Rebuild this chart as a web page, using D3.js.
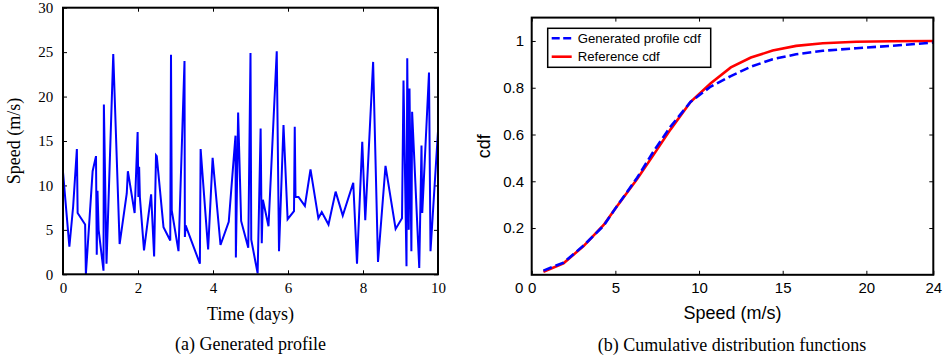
<!DOCTYPE html>
<html>
<head>
<meta charset="utf-8">
<script src="https://cdn.jsdelivr.net/npm/d3@7"></script>
<style>
  body { margin: 0; background: #fff; }
  svg { display: block; }
  .serif text { font-family: "Liberation Serif", "Times New Roman", serif; }
  .sans text { font-family: "Liberation Sans", Arial, Helvetica, sans-serif; }
</style>
</head>
<body>
<div id="chart"></div>
<script>
// (a) generated wind speed profile
var days = [0, 0.17, 0.27, 0.37, 0.39, 0.59, 0.61, 0.79, 0.88, 0.90, 0.92, 0.95, 1.08, 1.09, 1.16, 1.34,
  1.51, 1.70, 1.73, 1.91, 1.99, 2.01, 2.03, 2.05, 2.16, 2.35, 2.43, 2.48, 2.50, 2.68, 2.86, 2.88,
  2.90, 3.08, 3.24, 3.25, 3.27, 3.65, 3.67, 3.87, 3.99, 4.20, 4.42, 4.60, 4.61, 4.67, 4.75, 4.94,
  5.00, 5.02, 5.19, 5.27, 5.30, 5.33, 5.48, 5.70, 5.76, 5.88, 5.99, 6.16, 6.18, 6.20, 6.28, 6.45,
  6.60, 6.81, 6.90, 7.08, 7.27, 7.46, 7.74, 7.84, 7.98, 8.06, 8.27, 8.40, 8.60, 8.87, 9.04, 9.08,
  9.16, 9.18, 9.22, 9.24, 9.29, 9.31, 9.50, 9.56, 9.58, 9.76, 9.80, 10.0]
var speed = [11.5, 3.1, 7.6, 14.1, 6.9, 5.6, 0, 11.6, 13.3, 2.2, 9.4, 5.0, 0.4, 19.1, 1.2, 24.8,
  3.4, 9.1, 11.6, 6.9, 16.0, 8.7, 12.1, 8.7, 2.7, 9.0, 2.0, 13.4, 13.3, 5.3, 3.8, 24.7,
  7.2, 2.6, 24.0, 4.2, 5.5, 1.2, 14.1, 2.8, 13.1, 3.3, 5.9, 15.6, 1.9, 18.2, 6.0, 3.0,
  24.9, 3.9, 0.1, 16.4, 3.5, 8.4, 5.4, 25.1, 2.6, 16.8, 6.2, 7.1, 16.6, 8.7, 8.7, 7.7,
  11.8, 6.3, 7.0, 5.6, 9.3, 6.6, 10.3, 1.2, 14.9, 6.1, 23.9, 1.4, 12.2, 5.1, 6.3, 21.8,
  0.9, 24.3, 5.0, 20.9, 2.6, 18.3, 0.7, 14.5, 6.9, 22.7, 2.6, 16.1]
var dayTicks = [0, 2, 4, 6, 8, 10]
var speedTicks = [0, 5, 10, 15, 20, 25, 30]

// (b) cdfs
var cdfSpeed = [0.7, 1.9, 3.1, 4.3, 5.0, 6.3, 7.3, 8.3, 9.5, 10.7, 11.9, 13.1, 14.4, 15.8, 17.4, 19.4, 21.5, 24]
var genCdf = [0.018, 0.052, 0.125, 0.210, 0.284, 0.415, 0.530, 0.634, 0.740, 0.805, 0.850, 0.890, 0.922, 0.943, 0.958, 0.969, 0.979, 0.993]
var refCdf = [0.013, 0.049, 0.123, 0.213, 0.284, 0.410, 0.515, 0.622, 0.740, 0.819, 0.887, 0.929, 0.959, 0.979, 0.990, 0.997, 0.999, 1.0]
var cdfXTicks = [0, 5, 10, 15, 20, 24]
var cdfYTicks = [0.2, 0.4, 0.6, 0.8, 1]
var legendNames = ["Generated profile cdf", "Reference cdf"]

var W = 948, H = 363

var svg = d3.select("#chart").append("svg")
  .attr("width", W)
  .attr("height", H)

svg.append("rect").attr("width", W).attr("height", H).attr("fill", "#fff")

// ---------- left panel ----------
var L = { left: 63, right: 438, top: 7.7, bottom: 274.3 }
var gL = svg.append("g").attr("class", "serif")

var xL = d3.scaleLinear().domain([0, 10]).range([L.left, L.right])
var yL = d3.scaleLinear().domain([0, 30]).range([L.bottom, L.top])

gL.append("g")
  .attr("transform", "translate(0," + L.bottom + ")")
  .call(d3.axisBottom(xL).tickValues(dayTicks).tickFormat(d3.format("d")).tickSizeInner(-4).tickSizeOuter(0).tickPadding(8))
gL.append("g")
  .attr("transform", "translate(" + L.left + ",0)")
  .call(d3.axisLeft(yL).tickValues(speedTicks).tickFormat(d3.format("d")).tickSizeInner(-4).tickSizeOuter(0).tickPadding(9.7))
gL.append("g")
  .attr("transform", "translate(0," + L.top + ")")
  .call(d3.axisTop(xL).tickValues(dayTicks).tickFormat("").tickSizeInner(-4).tickSizeOuter(0))
gL.append("g")
  .attr("transform", "translate(" + L.right + ",0)")
  .call(d3.axisRight(yL).tickValues(speedTicks).tickFormat("").tickSizeInner(-4).tickSizeOuter(0))

gL.selectAll(".domain").remove()
gL.selectAll(".tick line").attr("stroke", "#000").attr("stroke-width", 1)
gL.selectAll(".tick text").attr("font-size", 15).attr("fill", "#000")

var line = d3.line()
  .x(function(d, i) { return xL(days[i]) })
  .y(function(d) { return yL(d) })

gL.append("path")
  .datum(speed)
  .attr("d", line)
  .attr("fill", "none")
  .attr("stroke", "#0000ff")
  .attr("stroke-width", 2)
  .attr("stroke-linejoin", "miter")

gL.append("rect")
  .attr("x", L.left).attr("y", L.top)
  .attr("width", L.right - L.left).attr("height", L.bottom - L.top)
  .attr("fill", "none").attr("stroke", "#000").attr("stroke-width", 2)

gL.append("text")
  .attr("x", (L.left + L.right) / 2).attr("y", 320)
  .attr("text-anchor", "middle").attr("font-size", 18)
  .text("Time (days)")
gL.append("text")
  .attr("transform", "translate(20," + (L.top + L.bottom) / 2 + ") rotate(-90)")
  .attr("text-anchor", "middle").attr("font-size", 18)
  .text("Speed (m/s)")
gL.append("text")
  .attr("x", 250.5).attr("y", 350)
  .attr("text-anchor", "middle").attr("font-size", 18)
  .text("(a) Generated profile")

// ---------- right panel ----------
var R = { left: 531.7, right: 933.3, top: 17.6, bottom: 274.8 }
var gR = svg.append("g").attr("class", "sans")

var xR = d3.scaleLinear().domain([0, 24]).range([R.left, R.right])
var yR = d3.scaleLinear().domain([0, 1.1]).range([R.bottom, R.top])

gR.append("g")
  .attr("transform", "translate(0," + R.bottom + ")")
  .call(d3.axisBottom(xR).tickValues(cdfXTicks).tickFormat(d3.format("d")).tickSizeInner(-4).tickSizeOuter(0).tickPadding(7.3))
gR.append("g")
  .attr("transform", "translate(" + R.left + ",0)")
  .call(d3.axisLeft(yR).tickValues(cdfYTicks).tickFormat(function(d) { return d === 1 ? "1" : d.toFixed(1) }).tickSizeInner(-4).tickSizeOuter(0).tickPadding(7.7))
gR.append("g")
  .attr("transform", "translate(0," + R.top + ")")
  .call(d3.axisTop(xR).tickValues(cdfXTicks).tickFormat("").tickSizeInner(-4).tickSizeOuter(0))
gR.append("g")
  .attr("transform", "translate(" + R.right + ",0)")
  .call(d3.axisRight(yR).tickValues(cdfYTicks).tickFormat("").tickSizeInner(-4).tickSizeOuter(0))

gR.selectAll(".domain").remove()
gR.selectAll(".tick line").attr("stroke", "#000").attr("stroke-width", 1)
gR.selectAll(".tick text").attr("font-size", 15).attr("fill", "#000")

// y-axis zero label sits next to the x zero
gR.append("text")
  .attr("x", R.left - 8.4).attr("y", 292.7)
  .attr("text-anchor", "end").attr("font-size", 15)
  .text("0")

var cdfLine = d3.line()
  .x(function(d, i) { return xR(cdfSpeed[i]) })
  .y(function(d) { return yR(d) })

gR.append("path")
  .datum(refCdf)
  .attr("d", cdfLine)
  .attr("fill", "none")
  .attr("stroke", "#ff0000")
  .attr("stroke-width", 2.6)

gR.append("path")
  .datum(genCdf)
  .attr("d", cdfLine)
  .attr("fill", "none")
  .attr("stroke", "#0000ff")
  .attr("stroke-width", 2.6)
  .attr("stroke-dasharray", "9,4")

gR.append("rect")
  .attr("x", R.left).attr("y", R.top)
  .attr("width", R.right - R.left).attr("height", R.bottom - R.top)
  .attr("fill", "none").attr("stroke", "#000").attr("stroke-width", 2)

// legend
var legend = gR.append("g")
legend.append("rect")
  .attr("x", 547.7).attr("y", 28.3)
  .attr("width", 163).attr("height", 39)
  .attr("fill", "#fff").attr("stroke", "#000").attr("stroke-width", 1.5)

var legendRows = legend.selectAll(".row")
  .data(legendNames)
  .enter().append("g")
  .attr("class", "row")
  .attr("transform", function(d, i) { return "translate(0," + (38.3 + i * 18.4) + ")" })

legendRows.append("line")
  .attr("x1", 551.7).attr("x2", 571.7)
  .attr("stroke", function(d, i) { return i === 0 ? "#0000ff" : "#ff0000" })
  .attr("stroke-width", 2.6)
  .attr("stroke-dasharray", function(d, i) { return i === 0 ? "8,3.5" : null })

legendRows.append("text")
  .attr("x", 577.7).attr("y", 4.6)
  .attr("font-size", 13.2)
  .text(function(d) { return d })

gR.append("text")
  .attr("x", (R.left + R.right) / 2).attr("y", 319)
  .attr("text-anchor", "middle").attr("font-size", 18)
  .text("Speed (m/s)")
gR.append("text")
  .attr("transform", "translate(490," + (R.top + R.bottom) / 2 + ") rotate(-90)")
  .attr("text-anchor", "middle").attr("font-size", 18)
  .text("cdf")

svg.append("g").attr("class", "serif")
  .append("text")
  .attr("x", 732).attr("y", 351)
  .attr("text-anchor", "middle").attr("font-size", 18)
  .text("(b) Cumulative distribution functions")
</script>
</body>
</html>
